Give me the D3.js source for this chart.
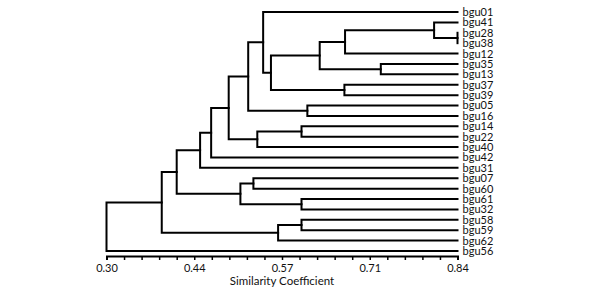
<!DOCTYPE html>
<html lang="en">
  <head>
    <meta charset="UTF-8" />
    <title>Dendrogram</title>
    <style>
      body { margin: 0; background: #fff; }
      text { font-family: "Lato", sans-serif; fill: #111; }
    </style>
  </head>
  <body>
    <script src="https://cdnjs.cloudflare.com/ajax/libs/d3/7.8.5/d3.min.js"></script>
    <script>
      // leaf order top to bottom
      var leaves = ["bgu01", "bgu41", "bgu28", "bgu38", "bgu12", "bgu35", "bgu13",
                    "bgu37", "bgu39", "bgu05", "bgu16", "bgu14", "bgu22", "bgu40",
                    "bgu42", "bgu31", "bgu07", "bgu60", "bgu61", "bgu32", "bgu58",
                    "bgu59", "bgu62", "bgu56"];

      // merges: [node id, child a, child b, similarity]
      var merges = [
        ["n1", "bgu28", "bgu38", 0.84],
        ["n2", "bgu41", "n1", 0.804],
        ["n3", "n2", "bgu12", 0.667],
        ["n4", "bgu35", "bgu13", 0.722],
        ["n5", "n3", "n4", 0.628],
        ["n6", "bgu37", "bgu39", 0.666],
        ["n7", "n5", "n6", 0.553],
        ["n8", "bgu01", "n7", 0.541],
        ["n9", "bgu05", "bgu16", 0.609],
        ["n10", "n8", "n9", 0.518],
        ["n11", "bgu14", "bgu22", 0.600],
        ["n12", "n11", "bgu40", 0.532],
        ["n13", "n10", "n12", 0.488],
        ["n14", "n13", "bgu42", 0.461],
        ["n15", "n14", "bgu31", 0.444],
        ["n16", "bgu07", "bgu60", 0.526],
        ["n17", "bgu61", "bgu32", 0.600],
        ["n18", "n16", "n17", 0.506],
        ["n19", "n15", "n18", 0.408],
        ["n20", "bgu58", "bgu59", 0.600],
        ["n21", "n20", "bgu62", 0.564],
        ["n22", "n19", "n21", 0.385],
        ["n23", "n22", "bgu56", 0.30]
      ];

      var tickValues = d3.range(21).map(function(i) { return 0.30 + i * 0.027; });
      var tickLabels = ["0.30", "0.44", "0.57", "0.71", "0.84"];
      var axisTitle = "Similarity Coefficient";

      var w = 593, h = 291;

      var svg = d3.select("body").append("svg")
                  .attr("width", w)
                  .attr("height", h);

      var xScale = d3.scaleLinear()
                     .domain([0.30, 0.84])
                     .range([106.5, 457.5]);

      var yScale = d3.scalePoint()
                     .domain(leaves)
                     .range([12, 251]);

      // node positions
      var pos = {};
      leaves.forEach(function(name) {
        pos[name] = { x: xScale(0.84), y: yScale(name) };
      });
      merges.forEach(function(m) {
        var a = pos[m[1]], b = pos[m[2]];
        pos[m[0]] = { x: xScale(m[3]), y: (a.y + b.y) / 2 };
      });

      var g = svg.append("g");

      // elbows
      var elbow = function(m) {
        var p = pos[m[0]], a = pos[m[1]], b = pos[m[2]];
        return "M" + a.x + "," + a.y + "H" + p.x + "V" + b.y + "H" + b.x;
      };

      g.selectAll(".link")
        .data(merges)
        .enter().append("path")
        .attr("d", elbow)
        .attr("fill", "none")
        .attr("stroke", "#000")
        .attr("stroke-width", 2)
        .attr("stroke-linejoin", "miter")
        .attr("stroke-linecap", "square");

      // leaf labels
      g.selectAll(".lab")
        .data(leaves)
        .enter().append("text")
        .attr("x", xScale(0.84) + 5)
        .attr("y", function(d) { return yScale(d); })
        .attr("dy", "0.36em")
        .attr("font-size", "11px")
        .text(function(d) { return d; });

      // axis
      var axis = d3.axisBottom(xScale)
                   .tickValues(tickValues)
                   .tickSize(4)
                   .tickFormat(function(d, i) { return i % 5 === 0 ? tickLabels[i / 5] : ""; });

      var ax = svg.append("g")
                  .attr("transform", "translate(0,256)")
                  .call(axis);
      ax.select(".domain").attr("stroke-width", 2).attr("stroke", "#000");
      ax.selectAll(".tick line").attr("stroke-width", 1.5).attr("stroke", "#000");
      ax.selectAll(".tick text")
        .attr("font-family", "Lato, sans-serif")
        .attr("font-size", "11px")
        .attr("fill", "#111")
        .attr("y", 8);

      svg.append("text")
         .attr("x", xScale(0.57))
         .attr("y", 285)
         .attr("text-anchor", "middle")
         .attr("font-size", "11.5px")
         .text(axisTitle);
    </script>
  </body>
</html>
